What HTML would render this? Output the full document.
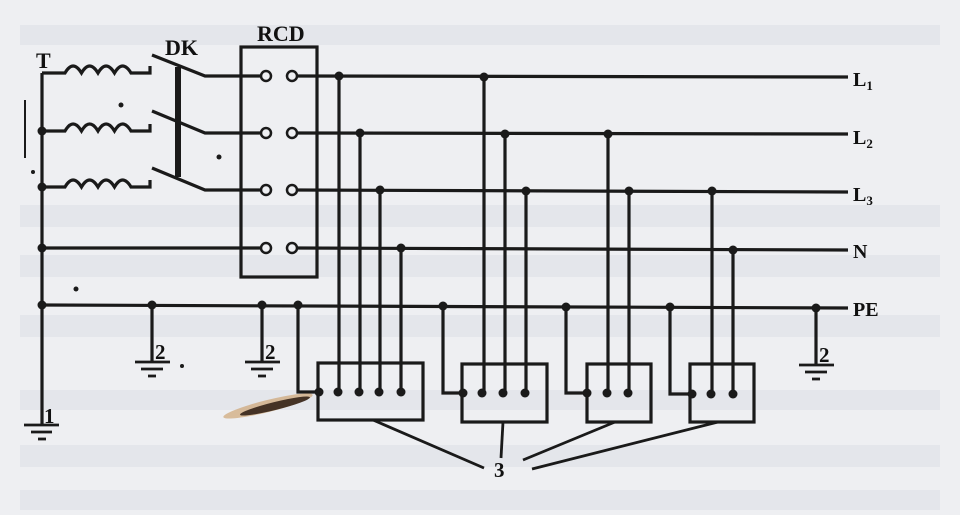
<!DOCTYPE html>
<html><head><meta charset="utf-8"><style>
html,body{margin:0;padding:0;background:#eeeff2;}
svg{display:block;}
text{font-family:"Liberation Serif",serif;font-weight:bold;fill:#111;}
</style></head><body>
<svg width="960" height="515" viewBox="0 0 960 515" xmlns="http://www.w3.org/2000/svg">
<rect width="960" height="515" fill="#eeeff2"/>
<g fill="#e4e6eb">
<rect x="20" y="25" width="920" height="20"/>
<rect x="20" y="205" width="920" height="22"/>
<rect x="20" y="255" width="920" height="22"/>
<rect x="20" y="315" width="920" height="22"/>
<rect x="20" y="390" width="920" height="20"/>
<rect x="20" y="445" width="920" height="22"/>
<rect x="20" y="490" width="920" height="20"/>
</g>
<g stroke="#1a1a1a" stroke-width="3.2" fill="none" stroke-linecap="butt">
<line x1="42" y1="73" x2="42" y2="425"/>
<line x1="25" y1="100" x2="25" y2="158" stroke-width="2"/>
<path d="M42 73 H65 q8 -14 16.5 0 q8 -14 16.5 0 q8 -14 16.5 0 q8 -14 16.5 0 H150 V66"/>
<path d="M42 131 H65 q8 -14 16.5 0 q8 -14 16.5 0 q8 -14 16.5 0 q8 -14 16.5 0 H150 V124"/>
<path d="M42 187 H65 q8 -14 16.5 0 q8 -14 16.5 0 q8 -14 16.5 0 q8 -14 16.5 0 H150 V180"/>
<line x1="178" y1="67" x2="178" y2="177" stroke-width="6"/>
<path d="M152 55 L205 76 H261"/>
<path d="M152 111 L205 133 H261"/>
<path d="M152 168 L205 190 H261"/>
<line x1="42" y1="248" x2="261" y2="248"/>
<rect x="241" y="47" width="76" height="230"/>
<line x1="297" y1="76" x2="848" y2="77"/>
<line x1="297" y1="133" x2="848" y2="134"/>
<line x1="297" y1="190" x2="848" y2="192"/>
<line x1="297" y1="248" x2="848" y2="250"/>
<line x1="42" y1="305" x2="848" y2="308"/>
<g stroke-width="2.5" fill="#eeeff2">
<circle cx="266" cy="76" r="5"/><circle cx="292" cy="76" r="5"/>
<circle cx="266" cy="133" r="5"/><circle cx="292" cy="133" r="5"/>
<circle cx="266" cy="190" r="5"/><circle cx="292" cy="190" r="5"/>
<circle cx="266" cy="248" r="5"/><circle cx="292" cy="248" r="5"/>
</g>
<rect x="318" y="363" width="105" height="57"/>
<path d="M298 305 V392 H319"/>
<line x1="339" y1="76" x2="339" y2="392"/>
<line x1="360" y1="133" x2="360" y2="392"/>
<line x1="380" y1="190" x2="380" y2="392"/>
<line x1="401" y1="248" x2="401" y2="392"/>
<rect x="462" y="364" width="85" height="58"/>
<path d="M443 306 V393 H463"/>
<line x1="484" y1="77" x2="484" y2="393"/>
<line x1="505" y1="134" x2="505" y2="393"/>
<line x1="526" y1="191" x2="526" y2="393"/>
<rect x="587" y="364" width="64" height="58"/>
<path d="M566 307 V393 H587"/>
<line x1="608" y1="134" x2="608" y2="393"/>
<line x1="629" y1="191" x2="629" y2="393"/>
<rect x="690" y="364" width="64" height="58"/>
<path d="M670 307 V394 H690"/>
<line x1="712" y1="191" x2="712" y2="394"/>
<line x1="733" y1="250" x2="733" y2="394"/>
<g stroke-width="2.8">
<line x1="373" y1="420" x2="484" y2="468"/>
<line x1="503" y1="422" x2="501" y2="458"/>
<line x1="615" y1="422" x2="523" y2="460"/>
<line x1="718" y1="422" x2="532" y2="469"/>
</g>
<line x1="152" y1="305" x2="152" y2="362"/>
<line x1="262" y1="305" x2="262" y2="362"/>
<line x1="816" y1="308" x2="816" y2="365"/>
</g>
<g stroke="#1a1a1a" stroke-width="2.8">
<line x1="135" y1="362" x2="170" y2="362"/><line x1="141" y1="369" x2="163" y2="369"/><line x1="148" y1="376" x2="156" y2="376"/>
<line x1="245" y1="362" x2="280" y2="362"/><line x1="251" y1="369" x2="273" y2="369"/><line x1="258" y1="376" x2="266" y2="376"/>
<line x1="799" y1="365" x2="834" y2="365"/><line x1="805" y1="372" x2="827" y2="372"/><line x1="812" y1="379" x2="820" y2="379"/>
<line x1="24" y1="425" x2="59" y2="425"/><line x1="31" y1="432" x2="52" y2="432"/><line x1="38" y1="439" x2="46" y2="439"/>
</g>
<g fill="#1a1a1a">
<circle cx="42" cy="131" r="4.5"/><circle cx="42" cy="187" r="4.5"/><circle cx="42" cy="248" r="4.5"/><circle cx="42" cy="305" r="4.5"/>
<circle cx="152" cy="305" r="4.5"/><circle cx="262" cy="305" r="4.5"/><circle cx="298" cy="305" r="4.5"/>
<circle cx="443" cy="306" r="4.5"/><circle cx="566" cy="307" r="4.5"/><circle cx="670" cy="307" r="4.5"/><circle cx="816" cy="308" r="4.5"/>
<circle cx="339" cy="76" r="4.5"/><circle cx="360" cy="133" r="4.5"/><circle cx="380" cy="190" r="4.5"/><circle cx="401" cy="248" r="4.5"/>
<circle cx="484" cy="77" r="4.5"/><circle cx="505" cy="134" r="4.5"/><circle cx="526" cy="191" r="4.5"/>
<circle cx="608" cy="134" r="4.5"/><circle cx="629" cy="191" r="4.5"/><circle cx="712" cy="191" r="4.5"/><circle cx="733" cy="250" r="4.5"/>
<circle cx="319" cy="392" r="4.5"/><circle cx="338" cy="392" r="4.5"/><circle cx="359" cy="392" r="4.5"/><circle cx="379" cy="392" r="4.5"/><circle cx="401" cy="392" r="4.5"/>
<circle cx="463" cy="393" r="4.5"/><circle cx="482" cy="393" r="4.5"/><circle cx="503" cy="393" r="4.5"/><circle cx="525" cy="393" r="4.5"/>
<circle cx="587" cy="393" r="4.5"/><circle cx="607" cy="393" r="4.5"/><circle cx="628" cy="393" r="4.5"/>
<circle cx="692" cy="394" r="4.5"/><circle cx="711" cy="394" r="4.5"/><circle cx="733" cy="394" r="4.5"/>
<circle cx="121" cy="105" r="2.5"/><circle cx="219" cy="157" r="2.5"/><circle cx="33" cy="172" r="2"/><circle cx="76" cy="289" r="2.5"/><circle cx="182" cy="366" r="2"/>
</g>
<ellipse cx="268" cy="406" rx="46" ry="6" fill="#c99a60" opacity="0.6" transform="rotate(-14 268 406)"/>
<ellipse cx="275" cy="406" rx="36" ry="4" fill="#2a1a10" opacity="0.85" transform="rotate(-14 275 406)"/>
<text x="36" y="68" font-size="22">T</text>
<text x="165" y="55" font-size="22">DK</text>
<text x="257" y="41" font-size="22">RCD</text>
<text x="853" y="86" font-size="20">L<tspan font-size="13" dy="4">1</tspan></text>
<text x="853" y="144" font-size="20">L<tspan font-size="13" dy="4">2</tspan></text>
<text x="853" y="201" font-size="20">L<tspan font-size="13" dy="4">3</tspan></text>
<text x="853" y="258" font-size="20">N</text>
<text x="853" y="316" font-size="20">PE</text>
<text x="155" y="359" font-size="21">2</text>
<text x="265" y="359" font-size="21">2</text>
<text x="819" y="362" font-size="21">2</text>
<text x="44" y="423" font-size="21">1</text>
<text x="494" y="477" font-size="21">3</text>
</svg>
</body></html>
